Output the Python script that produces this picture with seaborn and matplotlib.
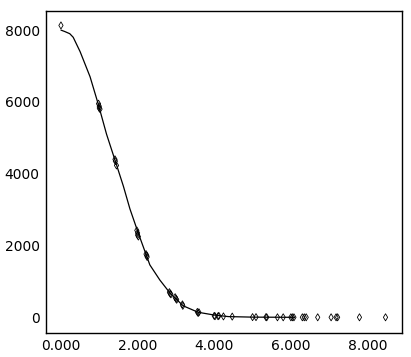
import matplotlib
matplotlib.use("Agg")
import matplotlib.pyplot as plt
import seaborn as sns
import pandas as pd
from matplotlib.ticker import FormatStrFormatter

sns.set_style("white")
plt.rcParams['font.family'] = ['DejaVu Sans']

# Observed data points
x_pts = [0.0, 0.98, 1.0, 1.0, 1.02, 1.41, 1.42, 1.45, 1.98, 2.0, 2.0, 2.02,
         2.22, 2.24, 2.25, 2.83, 2.85, 2.87, 2.98, 3.0, 3.02, 3.17, 3.18,
         3.56, 3.58, 3.6, 4.0, 4.02, 4.1, 4.12, 4.24, 4.47, 5.0, 5.09, 5.35,
         5.37, 5.65, 5.8, 6.0, 6.04, 6.08, 6.3, 6.35, 6.4, 6.7, 7.05, 7.18,
         7.22, 7.79, 8.47]
y_pts = [8130, 5950, 5880, 5830, 5800, 4400, 4350, 4230, 2420, 2350, 2290, 2250,
         1760, 1720, 1680, 700, 660, 640, 560, 520, 490, 360, 320,
         150, 120, 140, 40, 30, 30, 40, 25, 20, 5, 5, 5,
         0, 0, 0, 0, 0, 0, 0, 0, 0, 0, 0, 0,
         0, 0, 0]

# Fitted curve
x_fit = [0.0, 0.1, 0.23, 0.32, 0.5, 0.76, 0.97, 1.19, 1.41, 1.63, 1.8, 2.02,
         2.32, 2.58, 2.85, 3.19, 3.58, 4.02, 4.37, 5.0, 6.1]
y_fit = [8000, 7960, 7900, 7800, 7400, 6700, 5950, 5100, 4380, 3650, 3020, 2340,
         1460, 1040, 670, 320, 140, 60, 20, 5, 0]

x_ticks = [0, 2, 4, 6, 8]
y_ticks = [0, 2000, 4000, 6000, 8000]

pts = pd.DataFrame({"x": x_pts, "y": y_pts})
fit = pd.DataFrame({"x": x_fit, "y": y_fit})

fig = plt.figure(figsize=(4.11, 3.57), dpi=100)
ax = fig.add_axes([46/411, 1 - 333/357, (402 - 46)/411, (333 - 11)/357])

sns.lineplot(data=fit, x="x", y="y", ax=ax, color="black", linewidth=0.9,
             sort=False, estimator=None)
sns.scatterplot(data=pts, x="x", y="y", ax=ax, marker="d", s=13,
                facecolor="none", edgecolor="black", linewidth=0.6)

ax.set_xlim(-0.39, 8.9)
ax.set_ylim(-437, 8532)
ax.set_xticks(x_ticks)
ax.set_yticks(y_ticks)
ax.xaxis.set_major_formatter(FormatStrFormatter('%.3f'))
ax.set_xlabel("")
ax.set_ylabel("")
for s in ax.spines.values():
    s.set_color("black")
    s.set_linewidth(1.0)
ax.tick_params(axis="both", direction="inout", length=7, width=1,
               color="black", labelsize=10, labelcolor="black", pad=1)

fig.savefig("out.png", dpi=100)
